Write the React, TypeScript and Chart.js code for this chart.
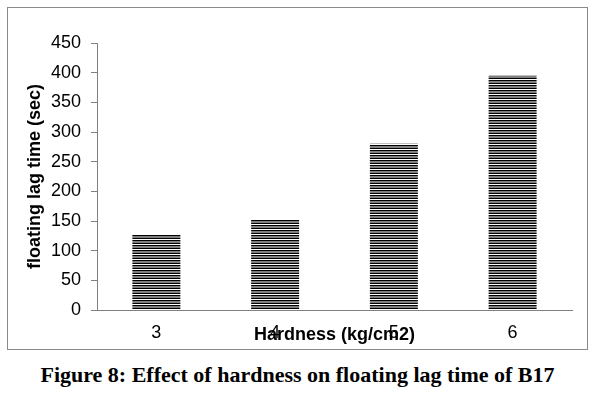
import React, { useEffect, useRef } from "react";
import { Chart, registerables } from "chart.js";
Chart.register(...registerables);

const categories = ["3", "4", "5", "6"];
const floatingLagTime = [128, 153, 280, 395];
const yTicks = [0, 50, 100, 150, 200, 250, 300, 350, 400, 450];
const xTitle = "Hardness (kg/cm2)";
const yTitle = "floating lag time (sec)";
const caption = "Figure 8: Effect of hardness on floating lag time of B17";

export default function App() {
  const ref = useRef<HTMLCanvasElement>(null);
  useEffect(() => {
    const canvas = ref.current!;
    const pc = document.createElement("canvas");
    pc.width = 8;
    pc.height = 5;
    const p = pc.getContext("2d")!;
    p.fillStyle = "#fff";
    p.fillRect(0, 0, 8, 5);
    p.fillStyle = "#000";
    p.fillRect(0, 0, 8, 1.5);
    p.fillRect(0, 2.5, 8, 1.5);
    const pattern = canvas.getContext("2d")!.createPattern(pc, "repeat")!;
    const sans = "'Liberation Sans', Arial, sans-serif";
    const chart = new Chart(canvas, {
      type: "bar",
      data: {
        labels: categories,
        datasets: [
          {
            data: floatingLagTime,
            backgroundColor: pattern as any,
            borderWidth: 0,
            categoryPercentage: 1,
            barPercentage: 0.404,
          },
        ],
      },
      options: {
        responsive: false,
        animation: false,
        devicePixelRatio: 1,
        layout: { padding: { top: 43, right: 23, left: 0, bottom: 0 } },
        plugins: { legend: { display: false }, tooltip: { enabled: false } },
        scales: {
          x: {
            grid: { display: false, drawTicks: false },
            border: { color: "#808080", width: 1 },
            ticks: { color: "#000", font: { family: sans, size: 18 }, padding: 12 },
            title: {
              display: true,
              text: xTitle,
              color: "#000",
              font: { family: sans, size: 18, weight: "bold" },
              padding: { top: 0, bottom: 4.2 },
            },
            afterFit: (s: any) => {
              s.height = 40;
            },
          },
          y: {
            min: 0,
            max: 450,
            afterBuildTicks: (s: any) => {
              s.ticks = yTicks.map((v) => ({ value: v }));
            },
            grid: { drawOnChartArea: false, drawTicks: true, tickLength: 6, color: "#808080" },
            border: { color: "#808080", width: 1 },
            ticks: { color: "#000", font: { family: sans, size: 18 }, padding: 10 },
            title: {
              display: true,
              text: yTitle,
              color: "#000",
              font: { family: sans, size: 18, weight: "bold" },
              padding: { top: 24.2, bottom: 0 },
            },
            afterFit: (s: any) => {
              s.width = 97;
            },
          },
        },
      },
    });
    return () => chart.destroy();
  }, []);

  return (
    <div style={{ position: "fixed", left: 0, top: 0, width: 595, height: 398, background: "#fff" }}>
      <div
        style={{
          position: "absolute",
          left: 7,
          top: 7,
          width: 579,
          height: 341,
          border: "1px solid #8a8a8a",
        }}
      />
      <canvas ref={ref} width={595} height={350} style={{ position: "absolute", left: 0, top: 0 }} />
      <div
        style={{
          position: "absolute",
          left: 0,
          top: 362,
          width: 595,
          textAlign: "center",
          fontFamily: "'Liberation Serif', 'Times New Roman', serif",
          fontWeight: "bold",
          fontSize: 22,
          lineHeight: "26px",
          color: "#000",
        }}
      >
        {caption}
      </div>
    </div>
  );
}
